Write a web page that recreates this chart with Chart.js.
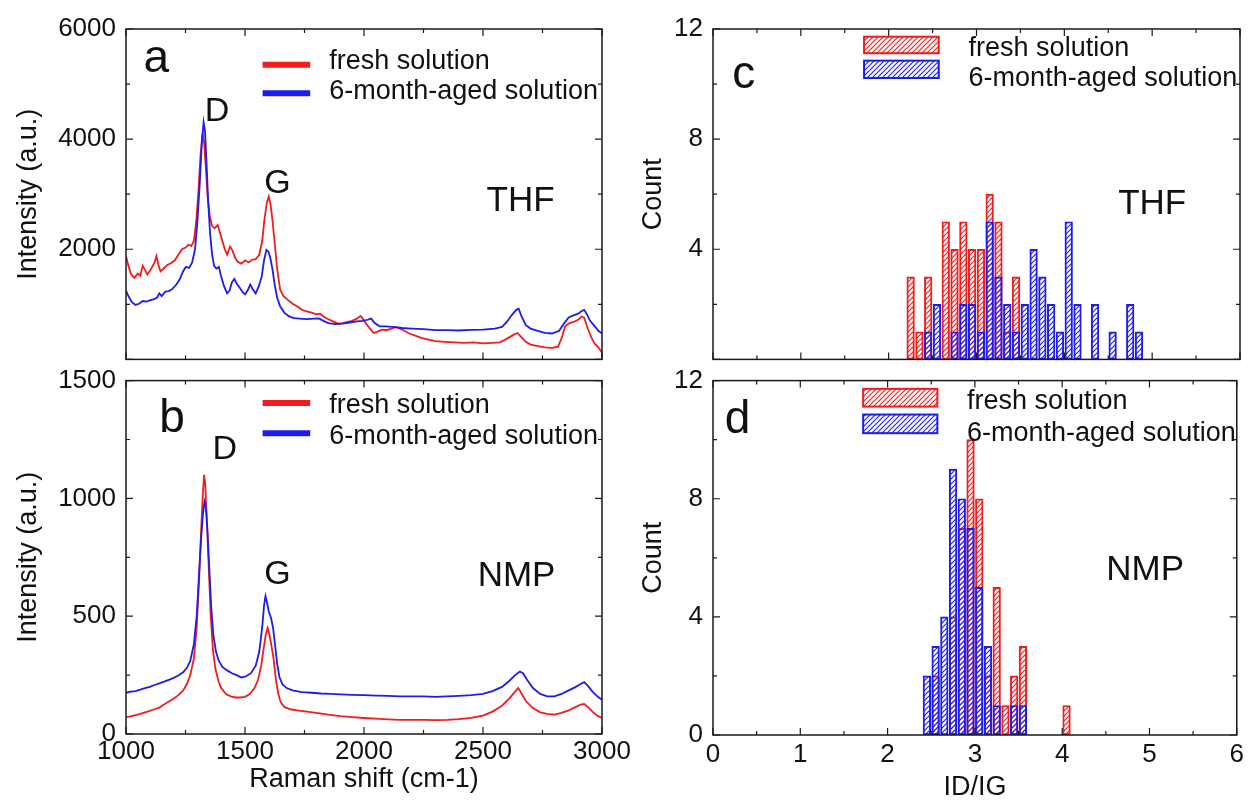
<!DOCTYPE html>
<html>
<head>
<meta charset="utf-8">
<script src="https://cdn.jsdelivr.net/npm/chart.js@4.4.1/dist/chart.umd.min.js"></script>
<style>
  html, body { margin: 0; padding: 0; background: #fff; }
  #wrap { position: relative; width: 1248px; height: 805px; overflow: hidden; background: #fff; }
  #wrap canvas { position: absolute; }
</style>
</head>
<body>
<div id="wrap">
  <canvas id="panelA" width="620" height="385" style="left:0px;top:0px"></canvas>
  <canvas id="panelC" width="628" height="385" style="left:620px;top:0px"></canvas>
  <canvas id="panelB" width="660" height="450" style="left:0px;top:355px"></canvas>
  <canvas id="panelD" width="628" height="450" style="left:620px;top:355px"></canvas>
</div>
<script>
// ---- data ----
const seriesLabels = ['fresh solution', '6-month-aged solution'];

// (a) THF Raman spectra
const thfFreshShift = [1000,1010,1020,1035,1050,1060,1070,1080,1090,1105,1120,1128,1136,1145,1160,1175,1190,1205,1220,1235,1250,1262,1275,1285,1295,1305,1313,1322,1328,1335,1343,1352,1362,1372,1385,1395,1405,1415,1425,1437,1447,1458,1470,1485,1500,1515,1530,1545,1560,1572,1582,1592,1600,1608,1616,1625,1635,1648,1662,1680,1700,1720,1740,1760,1780,1800,1815,1830,1850,1870,1890,1910,1930,1950,1970,1985,1995,2010,2025,2040,2055,2075,2095,2115,2135,2150,2170,2190,2210,2240,2270,2300,2340,2380,2420,2460,2500,2540,2570,2590,2610,2630,2645,2660,2680,2700,2730,2760,2790,2815,2830,2845,2860,2880,2900,2915,2925,2940,2955,2970,2985,3000];
const thfFreshIntensity = [1880,1700,1560,1480,1560,1520,1700,1620,1540,1640,1760,1880,1720,1600,1660,1720,1750,1800,1900,2000,2030,2080,2060,2150,2500,3100,3700,4100,3950,3500,2950,2600,2420,2380,2440,2300,2150,2000,1900,2050,1980,1850,1770,1740,1800,1760,1810,1820,1900,2150,2550,2850,2960,2800,2500,2100,1650,1260,1150,1080,1010,960,900,870,850,820,830,780,730,690,650,660,680,700,740,790,740,640,560,480,500,540,530,560,590,560,520,470,440,390,360,330,320,310,300,310,290,300,310,350,400,450,480,410,320,270,240,220,210,230,380,600,650,680,720,780,760,560,400,280,220,120];
const thfAgedShift = [1000,1010,1025,1040,1055,1070,1085,1100,1115,1130,1140,1150,1165,1180,1195,1210,1225,1240,1252,1265,1278,1290,1300,1310,1318,1326,1332,1338,1345,1353,1362,1370,1380,1390,1400,1412,1425,1435,1445,1455,1465,1478,1490,1500,1512,1522,1532,1545,1558,1570,1580,1590,1598,1606,1615,1625,1635,1648,1665,1685,1705,1730,1760,1790,1810,1830,1850,1880,1910,1940,1970,1995,2015,2030,2045,2065,2090,2120,2160,2200,2250,2300,2350,2400,2450,2500,2550,2580,2600,2620,2640,2650,2662,2680,2700,2730,2760,2790,2820,2840,2860,2880,2900,2915,2925,2935,2950,2970,2985,3000];
const thfAgedIntensity = [1250,1150,1040,990,1010,1060,1050,1070,1090,1120,1200,1150,1230,1240,1280,1350,1450,1600,1680,1660,1760,2000,2500,3200,3900,4310,4150,3600,2900,2300,1900,1700,1650,1680,1500,1330,1200,1250,1400,1460,1380,1300,1220,1180,1260,1360,1280,1200,1330,1500,1800,1990,1960,1850,1650,1350,1120,960,850,780,750,740,730,740,745,700,660,640,650,670,690,700,720,740,660,600,600,590,570,560,550,530,530,525,535,540,560,590,680,800,900,920,780,620,560,520,480,470,520,650,760,800,830,880,900,830,700,600,520,470];

// (b) NMP Raman spectra
const nmpFreshShift = [1000,1020,1040,1060,1080,1100,1120,1140,1160,1180,1200,1220,1240,1255,1270,1285,1297,1307,1315,1322,1328,1333,1340,1348,1356,1365,1375,1388,1400,1420,1440,1460,1480,1500,1520,1540,1555,1568,1578,1587,1595,1603,1612,1620,1630,1640,1650,1665,1690,1720,1760,1800,1850,1900,1950,2000,2050,2100,2150,2200,2250,2300,2350,2400,2450,2500,2540,2580,2610,2635,2648,2660,2680,2710,2740,2770,2800,2830,2860,2890,2910,2925,2940,2960,2980,3000];
const nmpFreshIntensity = [72,75,80,85,92,98,105,112,125,138,150,165,185,210,250,320,450,650,850,1000,1100,1060,900,700,500,360,280,225,195,170,160,155,155,158,170,195,230,290,360,420,450,420,370,320,230,170,135,115,105,100,95,90,82,76,72,68,65,62,60,60,60,59,60,63,68,78,95,120,150,180,195,175,140,110,92,85,82,90,100,115,125,128,115,95,78,68];
const nmpAgedShift = [1000,1020,1040,1060,1080,1100,1120,1140,1160,1180,1200,1220,1240,1255,1270,1285,1297,1307,1315,1323,1330,1336,1343,1350,1358,1367,1378,1390,1405,1425,1445,1465,1485,1505,1525,1545,1560,1572,1580,1586,1592,1600,1610,1618,1626,1635,1645,1658,1675,1700,1740,1780,1820,1860,1900,1950,2000,2050,2100,2150,2200,2250,2300,2350,2400,2450,2500,2540,2580,2610,2635,2655,2668,2685,2710,2740,2770,2800,2830,2860,2890,2910,2925,2940,2960,2980,3000];
const nmpAgedIntensity = [175,180,182,188,195,200,208,215,222,230,238,248,262,280,310,380,500,680,820,930,985,960,850,700,540,420,350,310,285,270,258,250,240,245,258,290,350,450,545,585,560,520,490,450,380,300,240,210,195,185,178,175,172,170,168,166,165,163,162,160,160,160,158,160,162,165,170,182,200,225,250,265,258,230,195,170,160,160,170,185,200,212,220,205,180,160,145];

// (c), (d) ID/IG histograms, bin width 0.1
const thfBinCenters = [2.25,2.35,2.45,2.55,2.65,2.75,2.85,2.95,3.05,3.15,3.25,3.35,3.45,3.55,3.65,3.75,3.85,3.95,4.05,4.15,4.25,4.35,4.45,4.55,4.65,4.75,4.85];
const thfFreshCounts = [3,1,3,0,5,4,5,4,4,6,5,1,3,0,0,0,0,0,0,0,0,0,0,0,0,0,0];
const thfAgedCounts  = [0,0,1,2,0,1,2,2,1,5,3,2,1,2,4,3,2,1,5,2,0,2,0,1,0,2,1];
const nmpBinCenters = [2.45,2.55,2.65,2.75,2.85,2.95,3.05,3.15,3.25,3.35,3.45,3.55,3.65,3.75,3.85,3.95,4.05];
const nmpFreshCounts = [0,2,0,4,7,10,8,2,5,1,2,3,0,0,0,0,1];
const nmpAgedCounts  = [2,3,4,9,8,7,5,3,1,0,1,1,0,0,0,0,0];

// ---- styling ----
const FONT = "'Liberation Sans', Arial, Helvetica, sans-serif";
const RED = '#f21c1c';
const BLUE = '#1c1cf0';
Chart.defaults.font.family = FONT;
Chart.defaults.color = '#111';

const toXY = (xs, ys) => xs.map((x, i) => ({x: x, y: ys[i]}));

function hatch(color) {
  const c = document.createElement('canvas');
  c.width = 5; c.height = 5;
  const g = c.getContext('2d');
  g.strokeStyle = color;
  g.lineWidth = 1.1;
  g.beginPath();
  g.moveTo(0, 5); g.lineTo(5, 0);
  g.moveTo(-1, 1); g.lineTo(1, -1);
  g.moveTo(4, 6); g.lineTo(6, 4);
  g.stroke();
  return g.createPattern(c, 'repeat');
}

const isMajor = (v, step) => Math.abs(v / step - Math.round(v / step)) < 1e-6;

// box with inward ticks on four sides, labels and legend
const decor = {
  id: 'decor',
  afterDatasetsDraw(chart, args, o) {
    const {ctx, chartArea: a, scales: {x, y}} = chart;
    ctx.save();
    ctx.strokeStyle = '#1a1a1a';
    ctx.lineWidth = 1.5;
    ctx.strokeRect(a.left, a.top, a.right - a.left, a.bottom - a.top);
    ctx.lineWidth = 1.2;
    ctx.beginPath();
    for (let v = x.min; v <= x.max + 1e-9; v += o.xMinor) {
      const len = isMajor(v, o.xMajor) ? 7 : 4;
      const p = x.getPixelForValue(v);
      ctx.moveTo(p, a.bottom); ctx.lineTo(p, a.bottom - len);
      ctx.moveTo(p, a.top); ctx.lineTo(p, a.top + len);
    }
    for (let v = y.min; v <= y.max + 1e-9; v += o.yMinor) {
      const len = isMajor(v, o.yMajor) ? 7 : 4;
      const p = y.getPixelForValue(v);
      ctx.moveTo(a.left, p); ctx.lineTo(a.left + len, p);
      ctx.moveTo(a.right, p); ctx.lineTo(a.right - len, p);
    }
    ctx.stroke();

    ctx.fillStyle = '#111';
    ctx.textAlign = 'center';
    ctx.textBaseline = 'middle';
    o.texts.forEach(t => {
      ctx.font = t.size + 'px ' + FONT;
      ctx.fillText(t.text, x.getPixelForValue(t.x), y.getPixelForValue(t.y));
    });

    const L = o.legend;
    chart.data.datasets.forEach((ds, i) => {
      const row = L.rows[i];
      const x0 = x.getPixelForValue(L.x0), x1 = x.getPixelForValue(L.x1);
      if (L.kind === 'line') {
        ctx.strokeStyle = ds.borderColor;
        ctx.lineWidth = 6;
        ctx.beginPath();
        ctx.moveTo(x0, y.getPixelForValue(row.sample));
        ctx.lineTo(x1, y.getPixelForValue(row.sample));
        ctx.stroke();
      } else {
        const y0 = y.getPixelForValue(row.top), y1 = y.getPixelForValue(row.bottom);
        ctx.fillStyle = ds.backgroundColor;
        ctx.fillRect(x0, y0, x1 - x0, y1 - y0);
        ctx.strokeStyle = ds.borderColor;
        ctx.lineWidth = 2;
        ctx.strokeRect(x0, y0, x1 - x0, y1 - y0);
      }
      ctx.fillStyle = '#111';
      ctx.font = '27px ' + FONT;
      ctx.textAlign = 'left';
      ctx.fillText(ds.label, x.getPixelForValue(L.textX), y.getPixelForValue(row.text));
    });
    ctx.restore();
  }
};

function yAxis(min, max, step, width, title, titlePad, hideZero) {
  return {
    type: 'linear', min: min, max: max,
    afterFit: s => { s.width = width; },
    grid: {display: false, drawTicks: false},
    border: {display: false},
    ticks: {stepSize: step, padding: 10, font: {size: 26}, color: '#111',
            callback: v => (hideZero && v === 0) ? '' : String(v)},
    title: {display: true, text: title, font: {size: 27}, color: '#111', padding: {top: titlePad, bottom: 0}}
  };
}

function xAxis(min, max, step, labelled, title, titlePad, height, tickPad) {
  const ax = {
    type: 'linear', min: min, max: max, offset: false,
    grid: {display: false, drawTicks: false},
    border: {display: false},
    ticks: {display: labelled, stepSize: step, padding: tickPad || 5, maxRotation: 0, font: {size: 26}, color: '#111',
            callback: v => String(v)}
  };
  if (labelled) {
    ax.afterFit = s => { s.height = height; };
    ax.title = {display: true, text: title, font: {size: 27}, color: '#111', padding: {top: 0, bottom: titlePad}};
  }
  return ax;
}

function spectrum(id, freshXY, agedXY, pad, yax, xax, texts, legend) {
  new Chart(document.getElementById(id), {
    type: 'line',
    data: {
      datasets: [
        {label: seriesLabels[0], data: freshXY, borderColor: RED, borderWidth: 1.8, pointRadius: 0, tension: 0, order: 2},
        {label: seriesLabels[1], data: agedXY, borderColor: BLUE, borderWidth: 1.8, pointRadius: 0, tension: 0, order: 1}
      ]
    },
    options: {
      responsive: false, animation: false, devicePixelRatio: 1,
      layout: {padding: pad},
      scales: {x: xax, y: yax},
      plugins: {legend: {display: false}, tooltip: {enabled: false},
                decor: {xMajor: 500, xMinor: 250, yMajor: yax.ticks.stepSize, yMinor: yax.ticks.stepSize / 2, texts: texts, legend: legend}}
    },
    plugins: [decor]
  });
}

function histogram(id, bins, fresh, aged, pad, yax, xax, texts) {
  new Chart(document.getElementById(id), {
    type: 'bar',
    data: {
      datasets: [
        {label: seriesLabels[0], data: toXY(bins, fresh), backgroundColor: hatch(RED), borderColor: RED,
         borderWidth: 1.3, borderSkipped: false, barThickness: 7.6, grouped: false, order: 2},
        {label: seriesLabels[1], data: toXY(bins, aged), backgroundColor: hatch(BLUE), borderColor: BLUE,
         borderWidth: 1.3, borderSkipped: false, barThickness: 7.6, grouped: false, order: 1}
      ]
    },
    options: {
      responsive: false, animation: false, devicePixelRatio: 1,
      layout: {padding: pad},
      scales: {x: xax, y: yax},
      plugins: {legend: {display: false}, tooltip: {enabled: false},
                decor: {xMajor: 1, xMinor: 0.5, yMajor: 4, yMinor: 2, texts: texts,
                        legend: {kind: 'box', x0: 1.72, x1: 2.57, textX: 2.91,
                                 rows: [{top: 11.72, bottom: 11.12, text: 11.3}, {top: 10.85, bottom: 10.22, text: 10.2}]}}}
    },
    plugins: [decor]
  });
}

spectrum('panelA', toXY(thfFreshShift, thfFreshIntensity), toXY(thfAgedShift, thfAgedIntensity),
  {top: 29, right: 18, bottom: 7, left: 0},
  yAxis(0, 6000, 2000, 126, 'Intensity (a.u.)', 12, true),
  xAxis(1000, 3000, 500, false),
  [{text: 'a', x: 1127, y: 5456, size: 46}, {text: 'D', x: 1382, y: 4503, size: 34},
   {text: 'G', x: 1636, y: 3185, size: 34}, {text: 'THF', x: 2658, y: 2878, size: 35}],
  {kind: 'line', x0: 1574, x1: 1774, textX: 1854, rows: [{sample: 5352, text: 5410}, {sample: 4832, text: 4861}]});

spectrum('panelB', toXY(nmpFreshShift, nmpFreshIntensity), toXY(nmpAgedShift, nmpAgedIntensity),
  {top: 23, right: 58, bottom: 0, left: 0},
  yAxis(0, 1500, 500, 126, 'Intensity (a.u.)', 12, false),
  xAxis(1000, 3000, 500, true, 'Raman shift (cm-1)', 9, 71, 2),
  [{text: 'b', x: 1193, y: 1335, size: 46}, {text: 'D', x: 1415, y: 1205, size: 34},
   {text: 'G', x: 1636, y: 675, size: 34}, {text: 'NMP', x: 2641, y: 668, size: 35}],
  {kind: 'line', x0: 1574, x1: 1774, textX: 1854, rows: [{sample: 1405, text: 1392}, {sample: 1277, text: 1263}]});

histogram('panelC', thfBinCenters, thfFreshCounts, thfAgedCounts,
  {top: 29, right: 8, bottom: 7, left: 0},
  yAxis(0, 12, 4, 93, 'Count', 17, true),
  xAxis(0, 6, 1, false),
  [{text: 'c', x: 0.35, y: 10.3, size: 46}, {text: 'THF', x: 5.0, y: 5.63, size: 35}]);

histogram('panelD', nmpBinCenters, nmpFreshCounts, nmpAgedCounts,
  {top: 23, right: 8, bottom: 0, left: 0},
  yAxis(0, 12, 4, 93, 'Count', 17, false),
  xAxis(0, 6, 1, true, 'ID/IG', 1, 70, 4),
  [{text: 'd', x: 0.28, y: 10.65, size: 46}, {text: 'NMP', x: 4.95, y: 5.58, size: 35}]);
</script>
</body>
</html>
